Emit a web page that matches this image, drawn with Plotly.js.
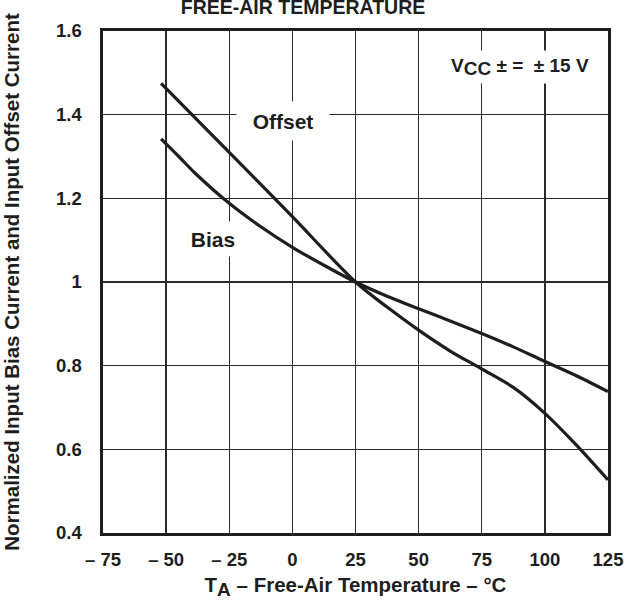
<!DOCTYPE html>
<html>
<head>
<meta charset="utf-8">
<script src="https://cdn.plot.ly/plotly-3.0.1.min.js"></script>
<style>html,body{margin:0;padding:0;background:#fff;}</style>
</head>
<body>
<div id="chart" style="width:630px;height:600px;"></div>
<script>
// Offset current (normalized) vs free-air temperature
const offsetTemp = [-52, -25, 0, 25, 37.5, 50, 62.5, 75, 87.5, 100, 112.5, 125];
const offsetVal  = [1.475, 1.31, 1.156, 1.0, 0.94, 0.885, 0.835, 0.792, 0.748, 0.686, 0.61, 0.527];
// Bias current (normalized) vs free-air temperature
const biasTemp = [-52, -45, -38.5, -25, -12.5, 0, 12.5, 25, 37.5, 50, 62.5, 75, 87.5, 100, 112.5, 125];
const biasVal  = [1.342, 1.30, 1.26, 1.188, 1.132, 1.083, 1.04, 1.0, 0.966, 0.936, 0.907, 0.877, 0.845, 0.81, 0.776, 0.738];

const xTickVals = [-75, -50, -25, 0, 25, 50, 75, 100, 125];
const xTickText = ['\u2013 75', '\u2013 50', '\u2013 25', '0', '25', '50', '75', '100', '125'];
const yTickVals = [0.4, 0.6, 0.8, 1.0, 1.2, 1.4, 1.6];
const yTickText = ['0.4', '0.6', '0.8', '1', '1.2', '1.4', '1.6'];

const FONT = 'Liberation Sans, Arial, Helvetica, sans-serif';
const INK = '#1e1e1e';

const lineStyle = {color: INK, width: 3.2, shape: 'spline', smoothing: 0.8};

const traces = [
  {x: offsetTemp, y: offsetVal, type: 'scatter', mode: 'lines', name: 'Offset', line: lineStyle, hoverinfo: 'x+y+name'},
  {x: biasTemp, y: biasVal, type: 'scatter', mode: 'lines', name: 'Bias', line: lineStyle, hoverinfo: 'x+y+name'}
];

const axisCommon = {
  showgrid: true, gridcolor: '#2a2a2a', gridwidth: 1.3,
  showline: true, linecolor: INK, linewidth: 2.6, mirror: true,
  zeroline: false, ticks: '',
  tickfont: {family: FONT, size: 18.5, color: INK, weight: 'bold'}
};

const layout = {
  width: 630, height: 600,
  margin: {l: 103, r: 22, t: 31, b: 67},
  paper_bgcolor: '#fff', plot_bgcolor: '#fff',
  showlegend: false,
  title: {
    text: '<b>FREE-AIR TEMPERATURE</b>',
    font: {family: FONT, size: 19.5, color: INK},
    x: 303 / 630, xanchor: 'center', xref: 'container',
    y: 1 - 7 / 600, yanchor: 'middle', yref: 'container'
  },
  xaxis: Object.assign({}, axisCommon, {
    range: [-75, 125],
    tickmode: 'array', tickvals: xTickVals, ticktext: xTickText,
    ticklabelstandoff: 8,
    title: {text: '<b>T<sub><span style="font-size:19px">A</span></sub> \u2013 Free-Air Temperature \u2013 \u00b0C</b>',
            font: {family: FONT, size: 20.5, color: INK}, standoff: 16}
  }),
  yaxis: Object.assign({}, axisCommon, {
    range: [0.4, 1.6],
    tickmode: 'array', tickvals: yTickVals, ticktext: yTickText,
    ticklabelstandoff: 15,
    title: {text: '<b>Normalized Input Bias Current and Input Offset Current</b>',
            font: {family: FONT, size: 20.5, color: INK}, standoff: 42}
  }),
  annotations: [
    {x: -3.7, y: 1.386, xref: 'x', yref: 'y', text: '<b>Offset</b>', showarrow: false,
     font: {family: FONT, size: 21, color: INK}, bgcolor: '#fff', width: 90, height: 36},
    {x: -31.6, y: 1.103, xref: 'x', yref: 'y', text: '<b>Bias</b>', showarrow: false,
     font: {family: FONT, size: 21, color: INK}, bgcolor: '#fff', width: 64, height: 32},
    {x: 90, y: 1.514, xref: 'x', yref: 'y',
     text: '<b>V<sub><span style="font-size:19px">CC</span></sub> \u00b1 =  \u00b1 15 V</b>', showarrow: false,
     font: {family: FONT, size: 19, color: INK}, bgcolor: '#fff', width: 156, height: 30}
  ]
};

Plotly.newPlot('chart', traces, layout, {staticPlot: true, displayModeBar: false});
</script>
</body>
</html>
